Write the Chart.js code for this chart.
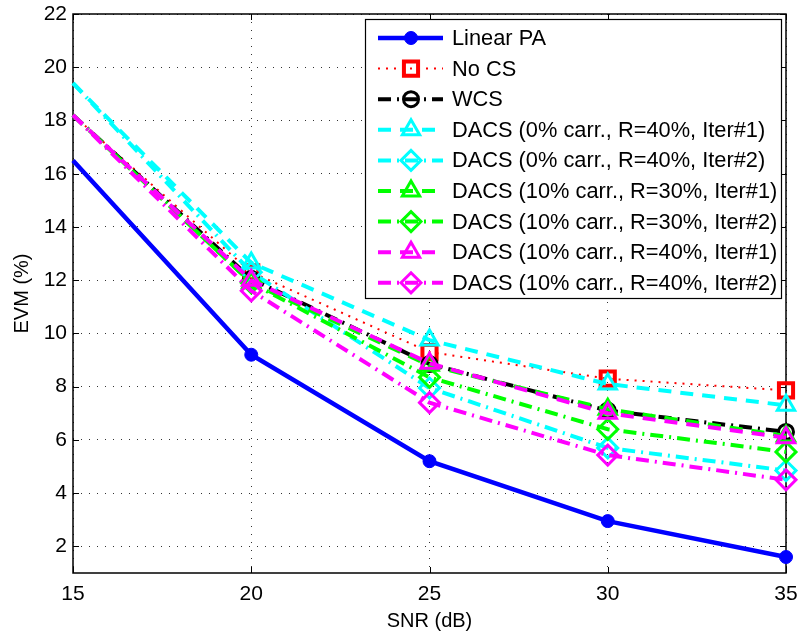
<!DOCTYPE html>
<html>
<head>
  <title>EVM vs SNR</title>
  <script src="https://cdn.jsdelivr.net/npm/chart.js@4/dist/chart.umd.min.js"></script>
  <style>
    body{margin:0;background:#fff}
  </style>
</head>
<body>
<canvas id="evmChart" width="800" height="636"></canvas>
<script>
// values
var snr = [15,20,25,30,35]
var xTicks = [15,20,25,30,35]
var yTicks = [2,4,6,8,10,12,14,16,18,20,22]

var names = [
  "Linear PA",
  "No CS",
  "WCS",
  "DACS (0% carr., R=40%, Iter#1)",
  "DACS (0% carr., R=40%, Iter#2)",
  "DACS (10% carr., R=30%, Iter#1)",
  "DACS (10% carr., R=30%, Iter#2)",
  "DACS (10% carr., R=40%, Iter#1)",
  "DACS (10% carr., R=40%, Iter#2)"
]
var linearPA    = [16.5, 9.2, 5.2, 2.95, 1.6]
var noCS        = [18.2, 12.3, 9.3, 8.3, 7.86]
var wcs         = [18.2, 12.05, 8.85, 7.1, 6.3]
var dacs0r40i1  = [19.4, 12.65, 9.75, 8.1, 7.3]
var dacs0r40i2  = [19.4, 12.3, 7.95, 5.7, 4.85]
var dacs10r30i1 = [18.2, 11.9, 8.8, 7.15, 6.15]
var dacs10r30i2 = [18.2, 11.9, 8.35, 6.4, 5.55]
var dacs10r40i1 = [18.2, 12.0, 8.88, 7.0, 6.08]
var dacs10r40i2 = [18.2, 11.6, 7.4, 5.43, 4.5]

var FONT = "'Liberation Sans', Arial, Helvetica, sans-serif"
var DASH = [13,9], DASHDOT = [13,6,2,6], DOT = [2,6]

function series(i, data, color, width, dash, marker, radius, fill, pw){
  return {
    label: names[i],
    data: snr.map(function(x,k){ return {x: x, y: data[k]} }),
    borderColor: color,
    borderWidth: width,
    borderDash: dash,
    pointStyle: marker,
    // the curves enter from the left edge without a marker at 15 dB
    pointRadius: snr.map(function(x){ return x == 15 ? 0 : radius }),
    pointHoverRadius: 0,
    size: radius,
    pointBorderWidth: pw,
    pointBackgroundColor: fill,
    pointBorderColor: color,
    tension: 0,
    clip: false,
    order: 9 - i
  }
}

var datasets = [
  series(0, linearPA,    "#0000ff", 4.5, [],      "circle",  6.5, "#0000ff", 1),
  series(1, noCS,        "#ff0000", 2,   DOT,     "rect",    10,  "rgba(0,0,0,0)", 4),
  series(2, wcs,         "#000000", 4,   DASHDOT, "circle",  7.5, "rgba(0,0,0,0)", 3),
  series(3, dacs0r40i1,  "#00ffff", 4,   DASH,    "triangle",10,  "rgba(0,0,0,0)", 3),
  series(4, dacs0r40i2,  "#00ffff", 4,   DASHDOT, "rectRot", 10,  "rgba(0,0,0,0)", 3),
  series(5, dacs10r30i1, "#00ff00", 4,   DASH,    "triangle",10,  "rgba(0,0,0,0)", 3),
  series(6, dacs10r30i2, "#00ff00", 4,   DASHDOT, "rectRot", 10,  "rgba(0,0,0,0)", 3),
  series(7, dacs10r40i1, "#ff00ff", 4,   DASH,    "triangle",10,  "rgba(0,0,0,0)", 3),
  series(8, dacs10r40i2, "#ff00ff", 4,   DASHDOT, "rectRot", 10,  "rgba(0,0,0,0)", 3)
]

function marker(c, ds, x, y){
  var r = ds.size
  c.beginPath()
  if(ds.pointStyle == "circle"){ c.arc(x, y, r, 0, Math.PI*2) }
  else if(ds.pointStyle == "rect"){ var s = r*Math.SQRT1_2; c.rect(x-s, y-s, 2*s, 2*s) }
  else if(ds.pointStyle == "triangle"){
    c.moveTo(x, y-r); c.lineTo(x+r*0.866, y+r*0.5); c.lineTo(x-r*0.866, y+r*0.5); c.closePath()
  }
  else { c.moveTo(x-r, y); c.lineTo(x, y-r); c.lineTo(x+r, y); c.lineTo(x, y+r); c.closePath() }
  c.fill(); c.stroke()
}

var framePlugin = {
  id: "frame",
  beforeDatasetsDraw: function(chart){
    var c = chart.ctx, a = chart.chartArea
    var xs = chart.scales.x, ys = chart.scales.y
    c.save()
    c.strokeStyle = "#000"
    c.lineWidth = 1
    c.beginPath()
    xTicks.forEach(function(v){
      var px = Math.round(xs.getPixelForValue(v)) + 0.5
      c.moveTo(px, a.bottom); c.lineTo(px, a.bottom - 6)
      c.moveTo(px, a.top); c.lineTo(px, a.top + 6)
    })
    yTicks.forEach(function(v){
      var py = Math.round(ys.getPixelForValue(v)) + 0.5
      c.moveTo(a.left, py); c.lineTo(a.left + 6, py)
      c.moveTo(a.right, py); c.lineTo(a.right - 6, py)
    })
    c.stroke()
    c.lineWidth = 1.5
    c.strokeRect(a.left, a.top, a.right - a.left, a.bottom - a.top)
    c.restore()
  },
  afterDatasetsDraw: function(chart){
    var c = chart.ctx
    c.save()
    c.fillStyle = "#fff"
    c.fillRect(365, 19, 416, 279)
    c.strokeStyle = "#000"
    c.lineWidth = 1.2
    c.strokeRect(365.5, 19.5, 416, 279)
    chart.data.datasets.forEach(function(ds, i){
      var y = 38 + i*30.6
      c.strokeStyle = ds.borderColor
      c.lineWidth = ds.borderWidth
      c.setLineDash(ds.borderDash)
      c.beginPath(); c.moveTo(378, y); c.lineTo(443, y); c.stroke()
      c.setLineDash([])
      c.fillStyle = ds.pointBackgroundColor
      c.lineWidth = ds.pointBorderWidth
      marker(c, ds, 411, y)
      c.fillStyle = "#000"
      c.font = "21.8px " + FONT
      c.textBaseline = "middle"
      c.fillText(ds.label, 452, y + 1)
    })
    c.restore()
  }
}

Chart.defaults.font.family = FONT
Chart.defaults.color = "#000"

var evmChart = new Chart(document.getElementById("evmChart").getContext("2d"), {
  type: "line",
  data: { datasets: datasets },
  options: {
    responsive: false,
    animation: false,
    layout: { padding: { top: 13, right: 14, left: 0, bottom: 0 } },
    plugins: { legend: { display: false }, tooltip: { enabled: false } },
    scales: {
      x: {
        type: "linear",
        min: 15, max: 35,
        afterBuildTicks: function(s){ s.ticks = xTicks.map(function(v){ return {value: v} }) },
        afterFit: function(s){ s.height = 63; s.paddingLeft = 0; s.paddingRight = 0 },
        grid: { color: "#333", lineWidth: 1, drawTicks: false },
        border: { display: false, dash: [1,7] },
        ticks: { font: { size: 21 }, padding: 9 },
        title: { display: true, text: "SNR (dB)", font: { size: 20 }, padding: { top: 0, bottom: 3 } }
      },
      y: {
        min: 1, max: 22,
        afterBuildTicks: function(s){ s.ticks = yTicks.map(function(v){ return {value: v} }) },
        afterFit: function(s){ s.width = 73; s.paddingTop = 0; s.paddingBottom = 0 },
        grid: { color: "#333", lineWidth: 1, drawTicks: false },
        border: { display: false, dash: [1,7] },
        ticks: { font: { size: 21 }, padding: 6 },
        title: { display: true, text: "EVM (%)", font: { size: 20 }, padding: { top: 10, bottom: 0 } }
      }
    }
  },
  plugins: [framePlugin]
})
</script>
</body>
</html>
